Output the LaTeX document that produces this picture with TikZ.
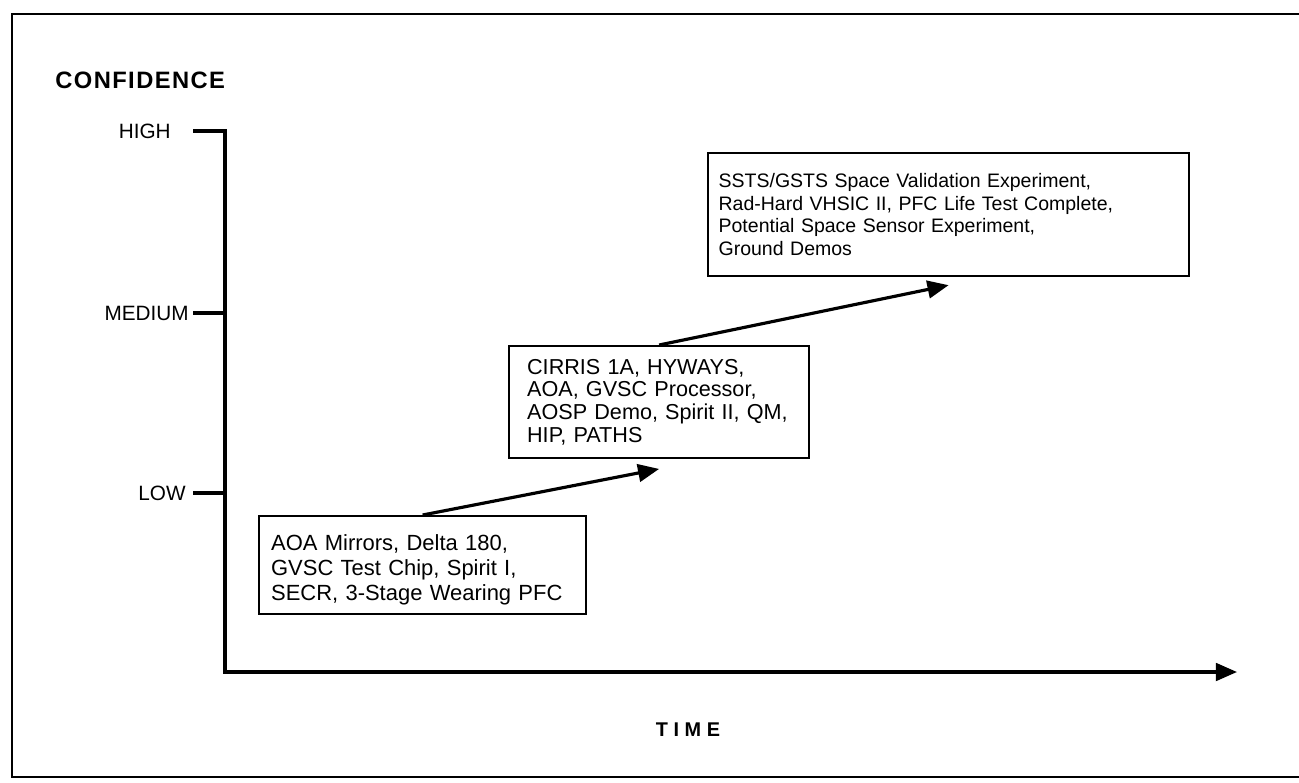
\documentclass[tikz,border=0pt]{standalone}
\usepackage{fontspec}
\setmainfont{Liberation Sans}
\newfontfamily\headfont[LetterSpace=6]{Liberation Sans}
\newfontfamily\timefont[LetterSpace=28]{Liberation Sans}
\usetikzlibrary{arrows.meta,positioning}

\begin{document}
\begin{tikzpicture}[x=0.02cm, y=-0.02cm,
			>={Triangle[length=12pt,width=10pt]},   %Pfeilspitzen
			axis/.style={black, line width=1.8pt},
			level/.style={inner sep=0pt, font=\fontsize{11.8}{13}\selectfont},
			itembox/.style={draw, black, line width=1.3pt, anchor=north west, align=left},
			trend/.style={black, line width=1.8pt, ->}]
			\useasboundingbox (0,0) rectangle (1299,782);
			\draw[black, line width=1.6pt] (1299,14) -- (12,14) -- (12,777) -- (1299,777);
			% Achsen
			\coordinate (ytop) at (225,131);
			\coordinate (origin) at (225,672);
			\coordinate (xend) at (1237,672);
			\coordinate (hitick) at (193,131);
			\coordinate (medtick) at (193,313);
			\coordinate (medaxis) at (225,313);
			\coordinate (lowtick) at (193,493);
			\coordinate (lowaxis) at (225,493);
			\draw[axis, ->] (hitick) -- (ytop) -- (origin) -- (xend);
			\draw[axis] (medtick) -- (medaxis);
			\draw[axis] (lowtick) -- (lowaxis);
			\node[anchor=west, inner sep=0pt, font=\headfont\fontsize{13.5}{15}\selectfont\bfseries] (conf) at (55,80) {CONFIDENCE};
			\node[inner sep=0pt, font=\timefont\fontsize{11.3}{13}\selectfont\bfseries] (time) at (688,730) {TIME};
			\node[level, anchor=east] (high) at (171,131) {HIGH};
			\node[level, anchor=east] (medium) at (189,313) {MEDIUM};
			\node[level, anchor=east] (low) at (186,493) {LOW};
			% Kaesten
			\node[itembox, inner xsep=0.24cm, text width=6.06cm, minimum height=1.96cm,
				font=\fontsize{12.5}{14.2}\selectfont] (lowbox) at (258,515)
				{\rule{0pt}{14pt}AOA Mirrors, Delta 180,\\ GVSC Test Chip, Spirit I,\\ SECR, 3-Stage Wearing PFC};
			\node[itembox, inner xsep=0.36cm, text width=5.28cm, minimum height=2.24cm,
				font=\fontsize{12.3}{13}\selectfont] (midbox) at (508,345)
				{CIRRIS 1A, HYWAYS,\\ AOA, GVSC Processor,\\ AOSP Demo, Spirit II, QM,\\ HIP, PATHS};
			\node[itembox, inner xsep=0.21cm, text width=9.2cm, minimum height=2.46cm,
				font=\fontsize{11.1}{12.8}\selectfont] (highbox) at (707,152)
				{SSTS/GSTS Space Validation Experiment,\\ Rad-Hard VHSIC II, PFC Life Test Complete,\\ Potential Space Sensor Experiment,\\ Ground Demos};
			\draw[trend] (lowbox.north) -- ([yshift=-5.5pt]midbox.south);
			\draw[trend] (midbox.north) -- ([yshift=-4.5pt]highbox.south);
		\end{tikzpicture}
\end{document}
